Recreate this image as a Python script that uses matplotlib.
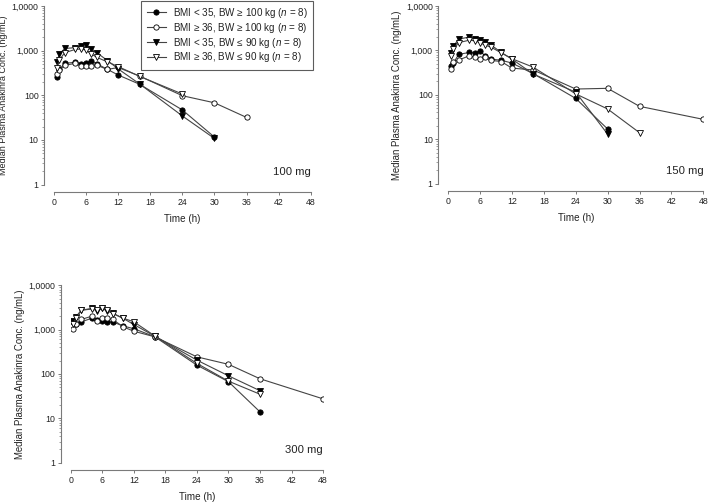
import numpy as np
import matplotlib
matplotlib.use("Agg")
import matplotlib.pyplot as plt
from matplotlib.ticker import FixedLocator, LogLocator, NullFormatter

plt.rcParams['font.family'] = ['Liberation Sans', 'DejaVu Sans']
plt.rcParams['mathtext.fontset'] = 'custom'
plt.rcParams['mathtext.it'] = 'Liberation Sans:italic'
plt.rcParams['mathtext.rm'] = 'Liberation Sans'

nan = np.nan

# sampling times (h)
times = [0.5, 1, 2, 4, 5, 6, 7, 8, 10, 12, 16, 24, 30, 36, 48]

group_labels = [
    'BMI < 35, BW ≥ 100 kg ($\\mathit{n}$ = 8)',
    'BMI ≥ 36, BW ≥ 100 kg ($\\mathit{n}$ = 8)',
    'BMI < 35, BW ≤ 90 kg ($\\mathit{n}$ = 8)',
    'BMI ≥ 36, BW ≤ 90 kg ($\\mathit{n}$ = 8)',
]

# median concentrations (ng/mL), one list per group
conc_100 = [
    [262, 380, 520, 550, 510, 530, 575, 510, 380, 285, 177, 47, 11.6, nan, nan],
    [300, 370, 470, 520, 455, 455, 455, 470, 380, 420, 270, 98, 68, 32, nan],
    [550, 830, 1120, 1170, 1260, 1360, 1100, 900, 600, 390, 180, 34.5, 10.8, nan, nan],
    [400, 620, 900, 1070, 1090, 1030, 840, 710, 560, 440, 266, 107, nan, nan, nan],
]
conc_150 = [
    [454, 520, 815, 900, 880, 950, 760, 640, 600, 520, 300, 83, 17, nan, nan],
    [380, 558, 607, 760, 700, 630, 700, 600, 560, 400, 363, 135, 140, 55, 28],
    [880, 1250, 1800, 2000, 1850, 1700, 1550, 1350, 900, 640, 293, 115, 13, nan, nan],
    [760, 1050, 1500, 1700, 1650, 1500, 1300, 1200, 880, 650, 420, 105, 48, 14, nan],
]
conc_300 = [
    [1500, 1370, 1490, 1800, 1620, 1540, 1490, 1490, 1200, 1050, 690, 158, 67, 14, nan],
    [1020, 1320, 1690, 2000, 1540, 1840, 1780, 1690, 1150, 920, 687, 243, 165, 78, 27.5],
    [1540, 1940, 2730, 3000, 2640, 3000, 2600, 2340, 1780, 1300, 710, 205, 91, 42, nan],
    [1320, 1780, 2730, 2900, 2800, 3000, 2800, 2300, 1800, 1500, 720, 173, 69, 35, nan],
]

dose_labels = ['100 mg', '150 mg', '300 mg']
ytick_vals = [1, 10, 100, 1000, 10000]
ytick_labels = ['1', '10', '100', '1,000', '1,0000']
xtick_vals = [0, 6, 12, 18, 24, 30, 36, 42, 48]

styles = [
    dict(marker='o', mfc='black'),
    dict(marker='o', mfc='white'),
    dict(marker='v', mfc='black'),
    dict(marker='v', mfc='white'),
]

fig = plt.figure(figsize=(7.09, 5.03), dpi=100)
ax1 = fig.add_axes([0.0762, 0.633, 0.362, 0.355])
ax2 = fig.add_axes([0.632, 0.635, 0.360, 0.353])
ax3 = fig.add_axes([0.0997, 0.080, 0.356, 0.353])

spine_col = '#7a7a7a'


def draw_panel(ax, data, dose, ylab_size=6.9):
    lines = []
    for vals, st, lab in zip(data, styles, group_labels):
        y = np.array(vals, dtype=float)
        t = np.array(times, dtype=float)
        ok = ~np.isnan(y)
        ln, = ax.plot(t[ok], y[ok], color='#444444', lw=0.8,
                      marker=st['marker'], mfc=st['mfc'], mec='black',
                      mew=0.6, ms=3.8, label=lab)
        lines.append(ln)
    ax.set_yscale('log')
    ax.set_xlim(0, 48)
    ax.set_ylim(1, 10000)
    for s in ['top', 'right']:
        ax.spines[s].set_visible(False)
    ax.spines['left'].set_position(('outward', 7))
    ax.spines['bottom'].set_position(('outward', 5.3))
    ax.spines['left'].set_bounds(1, 10000)
    ax.spines['bottom'].set_bounds(0, 48)
    for s in ['left', 'bottom']:
        ax.spines[s].set_color(spine_col)
        ax.spines[s].set_linewidth(0.8)
    ax.yaxis.set_major_locator(FixedLocator(ytick_vals))
    ax.set_yticklabels(ytick_labels)
    ax.yaxis.set_minor_locator(LogLocator(base=10, subs=np.arange(2, 10)))
    ax.yaxis.set_minor_formatter(NullFormatter())
    ax.set_xticks(xtick_vals)
    ax.tick_params(which='major', length=2.5, width=0.7, color=spine_col,
                   labelsize=6.3, labelcolor='#222222', pad=1.6)
    ax.tick_params(which='minor', length=1.4, width=0.5, color=spine_col)
    ax.set_xlabel('Time (h)', fontsize=7.1, color='#222222', labelpad=5)
    ax.set_ylabel('Median Plasma Anakinra Conc. (ng/mL)', fontsize=ylab_size,
                  color='#222222', labelpad=2.5)
    ax.text(1.0, 0.072, dose, transform=ax.transAxes, ha='right',
            va='center', fontsize=8.1, color='#222222')
    return lines


handles = draw_panel(ax1, conc_100, dose_labels[0], ylab_size=6.5)
draw_panel(ax2, conc_150, dose_labels[1])
draw_panel(ax3, conc_300, dose_labels[2])

leg = fig.legend(handles=handles, loc='upper right',
                 bbox_to_anchor=(313 / 709, 0.999), fontsize=7.1,
                 frameon=True, fancybox=False, handlelength=1.95,
                 handletextpad=0.7, labelspacing=0.08, borderpad=0.55,
                 borderaxespad=0)
leg.get_frame().set_edgecolor('#333333')
leg.get_frame().set_linewidth(0.8)
for txt in leg.get_texts():
    txt.set_color('#222222')

fig.savefig('out.png', dpi=100)
